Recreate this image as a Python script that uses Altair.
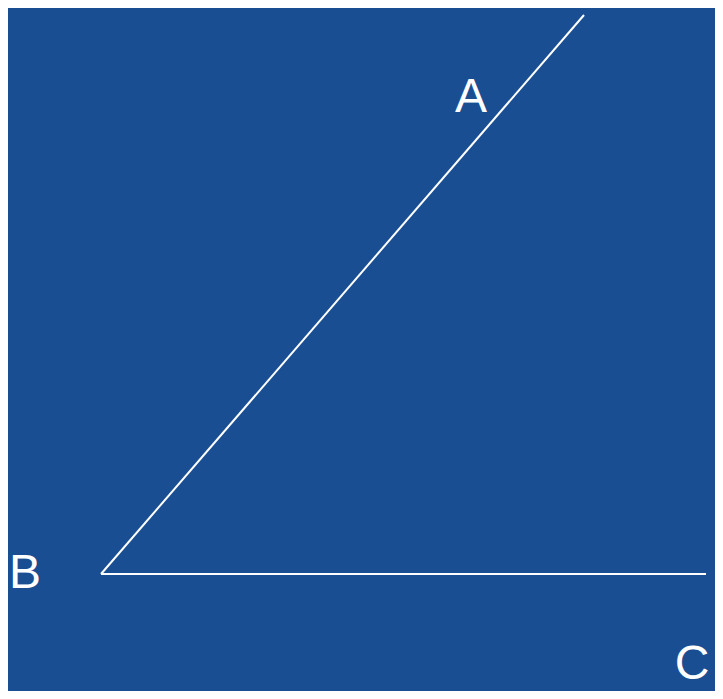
import altair as alt
import pandas as pd

# Geometry in picture coordinates (x right, y down)
seg_names = ["BA", "BC"]
seg_x1 = [101, 101]
seg_y1 = [574, 574]
seg_x2 = [584, 706]
seg_y2 = [15, 574]

label_text = ["A", "B", "C"]
label_x = [471, 25, 692]
label_y = [112, 588, 679]

segs = pd.DataFrame({"name": seg_names, "x": seg_x1, "y": seg_y1, "x2": seg_x2, "y2": seg_y2})
labels = pd.DataFrame({"t": label_text, "x": label_x, "y": label_y})

BG = "#1a4e93"
W, H = 707, 683
xs = alt.Scale(domain=[8, 8 + W], nice=False, zero=False)
ys = alt.Scale(domain=[8, 8 + H], nice=False, zero=False, reverse=True)

lines = alt.Chart(segs).mark_rule(color="white", strokeWidth=2).encode(
    x=alt.X("x:Q", scale=xs, axis=None),
    y=alt.Y("y:Q", scale=ys, axis=None),
    x2="x2:Q",
    y2="y2:Q",
)

text = alt.Chart(labels).mark_text(
    color="white", font="Liberation Sans", fontSize=48, align="center", baseline="alphabetic"
).encode(
    x=alt.X("x:Q", scale=xs, axis=None),
    y=alt.Y("y:Q", scale=ys, axis=None),
    text="t:N",
)

chart = (
    alt.layer(lines, text)
    .properties(width=W, height=H, padding=0, background=BG,
                autosize=alt.AutoSizeParams(type="none"))
    .configure_view(stroke=None, fill=BG)
)

chart.save("out.html", embed_options={"renderer": "svg", "actions": False})
